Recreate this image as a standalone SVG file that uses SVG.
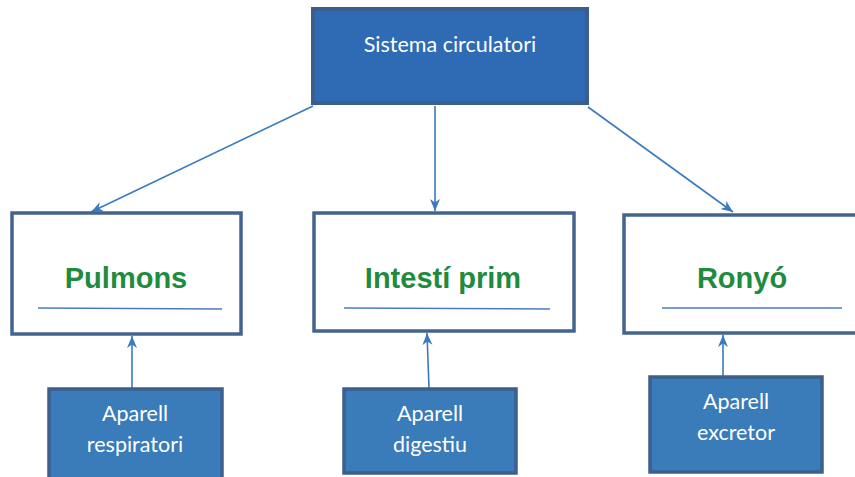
<svg xmlns="http://www.w3.org/2000/svg" width="855" height="477" viewBox="0 0 855 477">
<style>
.top{fill:#2E6BB4;stroke:#3C5E8C;stroke-width:4}
.mid{fill:#FFFFFF;stroke:#44648F;stroke-width:3.5}
.bot{fill:#3A7BB9;stroke:#3D5F8C;stroke-width:3.5}
.wt{font-family:Lato,"Open Sans",sans-serif;font-size:21.5px;fill:#FFFFFF;text-anchor:middle}
.gt{font-family:"Liberation Sans",Arial,sans-serif;font-weight:bold;font-size:29px;fill:#1E8B3E;text-anchor:middle}
.ul{stroke:#4C7BC6;stroke-width:1.5;fill:none}
.con{stroke:#3A7ABF;stroke-width:1.6;fill:none;marker-end:url(#ah)}
</style>
<defs>
<marker id="ah" markerUnits="userSpaceOnUse" markerWidth="14" markerHeight="12" refX="12" refY="5" orient="auto" viewBox="0 0 14 10">
<path d="M0,0 L12,5 L0,10 L3.5,5 Z" fill="#3A7ABF"/>
</marker>
</defs>
<rect width="855" height="477" fill="#FFFFFF"/>
<g id="connectors">
<line class="con" x1="313" y1="106" x2="91" y2="212"/>
<line class="con" x1="435" y1="106" x2="435" y2="211"/>
<line class="con" x1="588" y1="107" x2="733" y2="212"/>
<line class="con" x1="132" y1="388" x2="132" y2="336"/>
<line class="con" x1="429" y1="388" x2="427" y2="333"/>
<line class="con" x1="723" y1="376" x2="723" y2="335"/>
</g>
<g id="sistema">
<rect class="top" x="313" y="9" width="274" height="94"/>
<text class="wt" x="450" y="52">Sistema circulatori</text>
</g>
<g id="pulmons">
<rect class="mid" x="12" y="213" width="229" height="121"/>
<text class="gt" x="126" y="288">Pulmons</text>
<line class="ul" x1="38" y1="308" x2="222" y2="309"/>
</g>
<g id="intesti">
<rect class="mid" x="314" y="213" width="260" height="118"/>
<text class="gt" x="443" y="288">Intestí prim</text>
<line class="ul" x1="344" y1="308" x2="550" y2="309"/>
</g>
<g id="ronyo">
<rect class="mid" x="624" y="215" width="240" height="118"/>
<text class="gt" x="742" y="288">Ronyó</text>
<line class="ul" x1="662" y1="308" x2="842" y2="308"/>
</g>
<g id="respiratori">
<rect class="bot" x="49" y="389" width="173" height="95"/>
<text class="wt" x="135" y="421">Aparell</text>
<text class="wt" x="135" y="452">respiratori</text>
</g>
<g id="digestiu">
<rect class="bot" x="344" y="389" width="172" height="84"/>
<text class="wt" x="430" y="421">Aparell</text>
<text class="wt" x="430" y="452">digestiu</text>
</g>
<g id="excretor">
<rect class="bot" x="650" y="377" width="172" height="95"/>
<text class="wt" x="736" y="409">Aparell</text>
<text class="wt" x="736" y="440">excretor</text>
</g>
</svg>
